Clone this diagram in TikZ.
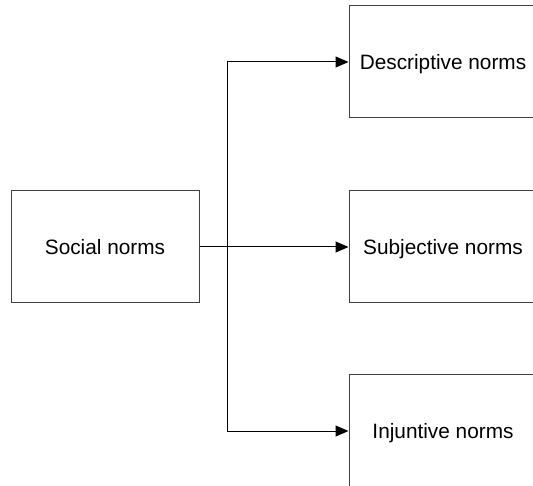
\documentclass[tikz,border=0pt]{standalone}
\usepackage{fontspec}
\setmainfont{Liberation Sans}
\usetikzlibrary{arrows.meta}
\begin{document}
\begin{tikzpicture}[x=1pt,y=-1pt,
  box/.style={draw=black!75,line width=1pt,minimum width=188pt,minimum height=112pt,inner sep=0pt,text height=15pt,text depth=0pt,font=\fontsize{20.8}{24}\selectfont,text=black},
  conn/.style={draw=black,line width=1pt},
  arr/.style={conn,-{Triangle[length=13pt,width=11pt]}}]
\useasboundingbox (0,0) rectangle (533,486);
\clip (0,0) rectangle (533,486);
\node[box] (soc) at (105,247) {Social norms};
\node[box] (des) at (443,62) {Descriptive norms};
\node[box] (sub) at (443,247) {Subjective norms};
\node[box] (inj) at (443,431) {Injuntive norms};
\coordinate (j) at (227,247);
\draw[conn] (soc.east) -- (j);
\draw[conn,draw=black!60] (227,63) -- (227,432);
\draw[arr] (j) |- (des.west);
\draw[arr] (j) -- (sub.west);
\draw[arr] (j) |- (inj.west);
\end{tikzpicture}
\end{document}
